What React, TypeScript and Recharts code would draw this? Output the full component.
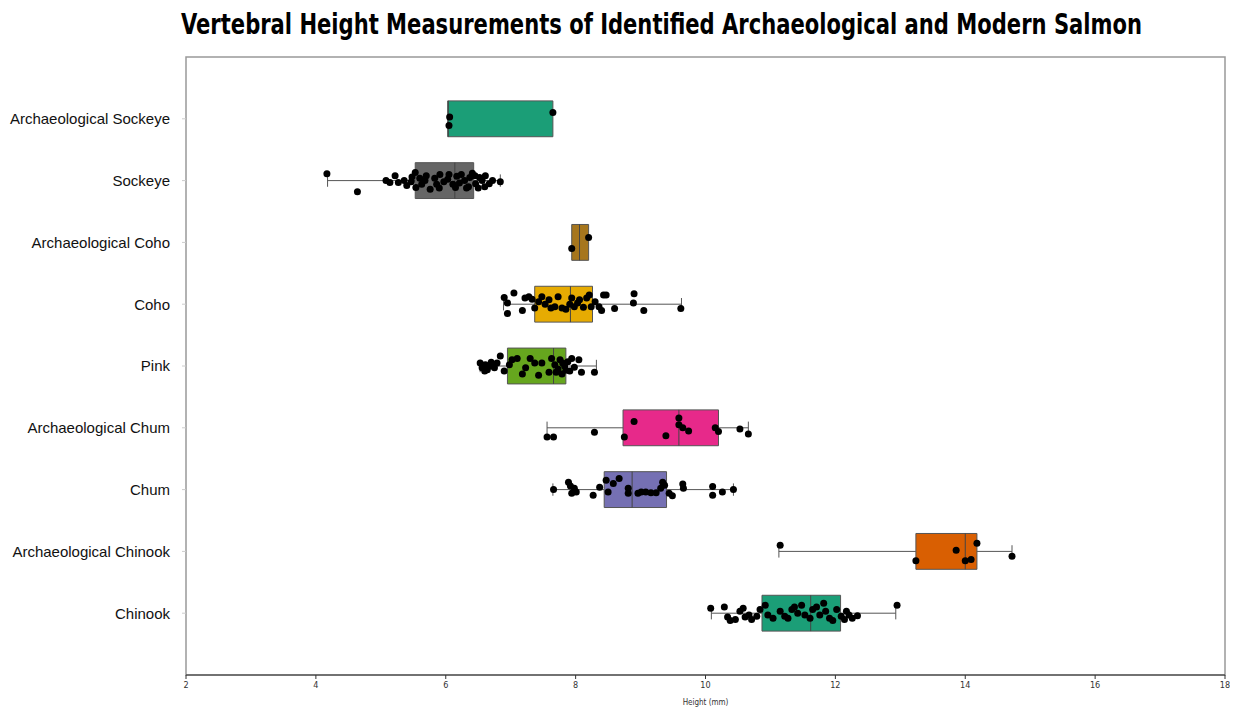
import {
  ScatterChart,
  Scatter,
  XAxis,
  YAxis,
  ReferenceArea,
  ReferenceLine,
} from 'recharts';

const categories = [
  'Archaeological Sockeye',
  'Sockeye',
  'Archaeological Coho',
  'Coho',
  'Pink',
  'Archaeological Chum',
  'Chum',
  'Archaeological Chinook',
  'Chinook',
];

const boxColors = ['#1b9e77', '#666666', '#a6761d', '#e6ab02', '#66a61e', '#e7298a', '#7570b3', '#d95f02', '#1b9e77'];

// box stats (mm)
const q1 = [6.03, 5.53, 7.94, 7.37, 6.95, 8.73, 8.44, 13.24, 10.87];
const median = [6.04, 6.14, 8.06, 7.92, 7.66, 9.59, 8.87, 14.0, 11.62];
const q3 = [7.65, 6.43, 8.2, 8.26, 7.85, 10.2, 9.4, 14.18, 12.08];
const whiskerLow: (number | null)[] = [null, 4.18, null, 6.89, 6.53, 7.56, 7.65, 11.13, 10.09];
const whiskerHigh: (number | null)[] = [null, 6.84, null, 9.63, 8.32, 10.66, 10.43, 14.72, 12.93];

const xTicks = [2, 4, 6, 8, 10, 12, 14, 16, 18];

// individual measurements: [height, vertical jitter]
const archSockeyePts = [[6.06, -0.03], [6.05, 0.11], [7.65, -0.1]];
const sockeyePts = [
  [4.17, -0.11], [4.64, 0.18], [5.08, 0], [5.14, 0.03], [5.22, -0.08], [5.27, 0.03], [5.36, 0],
  [5.4, 0.08], [5.47, 0.02], [5.48, -0.06], [5.53, -0.13], [5.54, 0.11], [5.6, -0.04], [5.63, 0.06],
  [5.68, 0], [5.7, -0.08], [5.76, 0.14], [5.83, -0.04], [5.86, 0.06], [5.9, 0.12], [5.91, -0.1],
  [5.97, 0.02], [6.03, -0.02], [6.05, -0.1], [6.11, 0.06], [6.15, 0.11], [6.17, -0.07], [6.21, 0.04],
  [6.24, -0.1], [6.29, 0], [6.32, 0.12], [6.35, 0.1], [6.37, -0.05], [6.41, -0.12], [6.45, -0.08],
  [6.46, 0.05], [6.5, 0.12], [6.52, -0.05], [6.56, 0], [6.6, 0.1], [6.61, -0.08], [6.67, 0.05],
  [6.72, 0], [6.84, 0.02],
];
const archCohoPts = [[7.94, 0.1], [8.2, -0.08]];
const cohoPts = [
  [6.9, -0.11], [6.95, -0.02], [6.95, 0.15], [7.05, -0.18], [7.18, 0.1], [7.22, -0.1], [7.28, -0.12],
  [7.33, -0.08], [7.37, 0.06], [7.43, -0.04], [7.48, -0.12], [7.53, 0], [7.59, -0.07], [7.62, 0.06],
  [7.68, 0.04], [7.73, -0.12], [7.79, 0.06], [7.85, 0.08], [7.91, 0], [7.94, -0.1], [7.98, 0.04],
  [8.03, -0.02], [8.06, -0.07], [8.12, 0.05], [8.17, -0.1], [8.21, -0.15], [8.24, 0.04], [8.3, -0.04],
  [8.36, 0.04], [8.4, 0.1], [8.43, -0.15], [8.47, -0.15], [8.6, 0.07], [8.89, -0.02], [8.9, -0.17],
  [9.05, 0.1], [9.62, 0.07],
];
const pinkPts = [
  [6.53, -0.05], [6.56, 0.03], [6.6, 0.08], [6.61, -0.02], [6.64, 0.06], [6.69, 0], [6.7, -0.06],
  [6.75, 0.03], [6.79, -0.05], [6.84, -0.16], [6.9, 0.08], [6.98, -0.02], [7.02, -0.1], [7.1, -0.12],
  [7.18, 0.13], [7.23, 0.03], [7.3, -0.12], [7.37, -0.05], [7.43, 0.15], [7.48, -0.05], [7.59, 0.1],
  [7.63, -0.12], [7.68, -0.02], [7.7, 0.1], [7.73, 0.05], [7.76, -0.1], [7.79, 0.13], [7.8, -0.05],
  [7.83, 0], [7.85, 0.07], [7.88, -0.07], [7.91, 0.08], [7.94, -0.12], [7.98, 0.02], [8.05, -0.1],
  [8.09, 0.1], [8.29, 0.1],
];
const archChumPts = [
  [7.56, 0.15], [7.66, 0.15], [8.29, 0.07], [8.75, 0.15], [8.9, -0.1], [9.39, 0.13], [9.59, -0.16],
  [9.59, -0.05], [9.65, 0], [9.74, 0.05], [10.15, 0], [10.2, 0.06], [10.53, 0.02], [10.66, 0.1],
];
const chumPts = [
  [7.66, 0], [7.89, -0.12], [7.92, -0.06], [7.94, 0.06], [7.98, -0.02], [8.01, 0.04], [8.27, 0.09],
  [8.37, -0.04], [8.47, -0.15], [8.5, 0.04], [8.58, -0.1], [8.67, -0.18], [8.81, -0.02], [8.81, 0.06],
  [8.96, 0.06], [9.01, 0.04], [9.08, 0.04], [9.16, 0.05], [9.24, 0.05], [9.31, -0.02], [9.34, -0.12],
  [9.37, -0.07], [9.44, 0.06], [9.49, 0.1], [9.65, -0.09], [9.66, -0.02], [10.11, -0.05], [10.11, 0.09],
  [10.26, 0.04], [10.43, 0],
];
const archChinookPts = [[11.15, -0.1], [13.24, 0.15], [13.86, -0.02], [14.0, 0.15], [14.09, 0.13], [14.18, -0.13], [14.72, 0.08]];
const chinookPts = [
  [10.08, -0.08], [10.29, -0.1], [10.34, 0.06], [10.38, 0.12], [10.46, 0.1], [10.53, -0.03], [10.58, -0.08],
  [10.61, 0.06], [10.67, 0.03], [10.71, 0.1], [10.79, 0.05], [10.84, -0.06], [10.92, -0.13], [10.96, 0.03],
  [11.04, 0.08], [11.15, -0.03], [11.22, 0.05], [11.27, 0.08], [11.33, -0.06], [11.37, -0.1], [11.42, 0],
  [11.48, -0.13], [11.53, 0.03], [11.61, 0.08], [11.65, -0.06], [11.71, -0.1], [11.76, 0.03], [11.82, -0.16],
  [11.85, -0.03], [11.91, 0.08], [11.96, 0.12], [12.02, -0.06], [12.09, 0.05], [12.14, 0.1], [12.17, -0.03],
  [12.21, 0.03], [12.26, 0.08], [12.34, 0.04], [12.95, -0.13],
];

const groupPoints = [archSockeyePts, sockeyePts, archCohoPts, cohoPts, pinkPts, archChumPts, chumPts, archChinookPts, chinookPts];

const scatterData = groupPoints.flatMap((pts, i) => pts.map(([x, dy]) => ({ x, y: i + 1 + dy })));

const BOX_HALF = 0.29;
const CAP_HALF = 0.1;

const Dot = (props: any) => <circle cx={props.cx} cy={props.cy} r={3.5} fill="#000" />;

export default function App() {
  const boxes = categories.map((_, i) => {
    const y = i + 1;
    const els = [];
    if (whiskerLow[i] != null) {
      els.push(
        <ReferenceLine key={`wl${i}`} segment={[{ x: whiskerLow[i] as number, y }, { x: q1[i], y }]} stroke="#555" strokeWidth={1} />,
        <ReferenceLine key={`cl${i}`} segment={[{ x: whiskerLow[i] as number, y: y - CAP_HALF }, { x: whiskerLow[i] as number, y: y + CAP_HALF }]} stroke="#555" strokeWidth={1} />,
      );
    }
    if (whiskerHigh[i] != null) {
      els.push(
        <ReferenceLine key={`wh${i}`} segment={[{ x: q3[i], y }, { x: whiskerHigh[i] as number, y }]} stroke="#555" strokeWidth={1} />,
        <ReferenceLine key={`ch${i}`} segment={[{ x: whiskerHigh[i] as number, y: y - CAP_HALF }, { x: whiskerHigh[i] as number, y: y + CAP_HALF }]} stroke="#555" strokeWidth={1} />,
      );
    }
    els.push(
      <ReferenceArea
        key={`b${i}`}
        x1={q1[i]}
        x2={q3[i]}
        y1={y - BOX_HALF}
        y2={y + BOX_HALF}
        fill={boxColors[i]}
        fillOpacity={1}
        stroke="#555"
        strokeWidth={1}
      />,
      <ReferenceLine key={`m${i}`} segment={[{ x: median[i], y: y - BOX_HALF }, { x: median[i], y: y + BOX_HALF }]} stroke="#444" strokeWidth={1} />,
    );
    return els;
  });

  return (
    <div style={{ position: 'relative', width: 1222, height: 700 }}>
      <div
        style={{
          position: 'absolute',
          left: 0,
          top: 2,
          width: 1222,
          textAlign: 'center',
          fontFamily: "'DejaVu Sans Condensed', 'DejaVu Sans', sans-serif",
          fontWeight: 'bold',
          fontSize: 28,
          lineHeight: '30px',
          color: '#000',
          whiteSpace: 'nowrap',
          transform: 'translateX(42.5px) scaleX(0.837)',
          transformOrigin: '611px 50%',
        }}
      >
        Vertebral Height Measurements of Identified Archaeological and Modern Salmon
      </div>
      <ScatterChart width={1222} height={700} margin={{ top: 49, right: 5, bottom: 0, left: 0 }}>
        <XAxis
          type="number"
          dataKey="x"
          domain={[2, 18]}
          ticks={xTicks}
          interval={0}
          height={33}
          stroke="#333"
          tickSize={4}
          tickMargin={3}
          tick={{ fontSize: 9, fill: '#333', fontFamily: "'DejaVu Sans Condensed', sans-serif" }}
          label={{ value: 'Height (mm)', position: 'insideBottom', offset: 3, fontSize: 8, fill: '#333', fontFamily: "'DejaVu Sans Condensed', sans-serif" }}
        />
        <YAxis
          type="number"
          dataKey="y"
          domain={[0, 10]}
          reversed
          ticks={[1, 2, 3, 4, 5, 6, 7, 8, 9]}
          interval={0}
          width={178}
          axisLine={false}
          tickLine={{ stroke: '#ccc' }}
          tickSize={4}
          tickMargin={12}
          tickFormatter={(v: number) => categories[v - 1] ?? ''}
          tick={{ fontSize: 15, fill: '#111', fontFamily: "'Liberation Sans', Arial, sans-serif" }}
        />
        <ReferenceArea x1={2} x2={18} y1={0} y2={10} fill="none" stroke="#999" strokeWidth={1.5} ifOverflow="visible" />
        {boxes}
        <Scatter data={scatterData} shape={Dot} isAnimationActive={false} />
      </ScatterChart>
    </div>
  );
}
